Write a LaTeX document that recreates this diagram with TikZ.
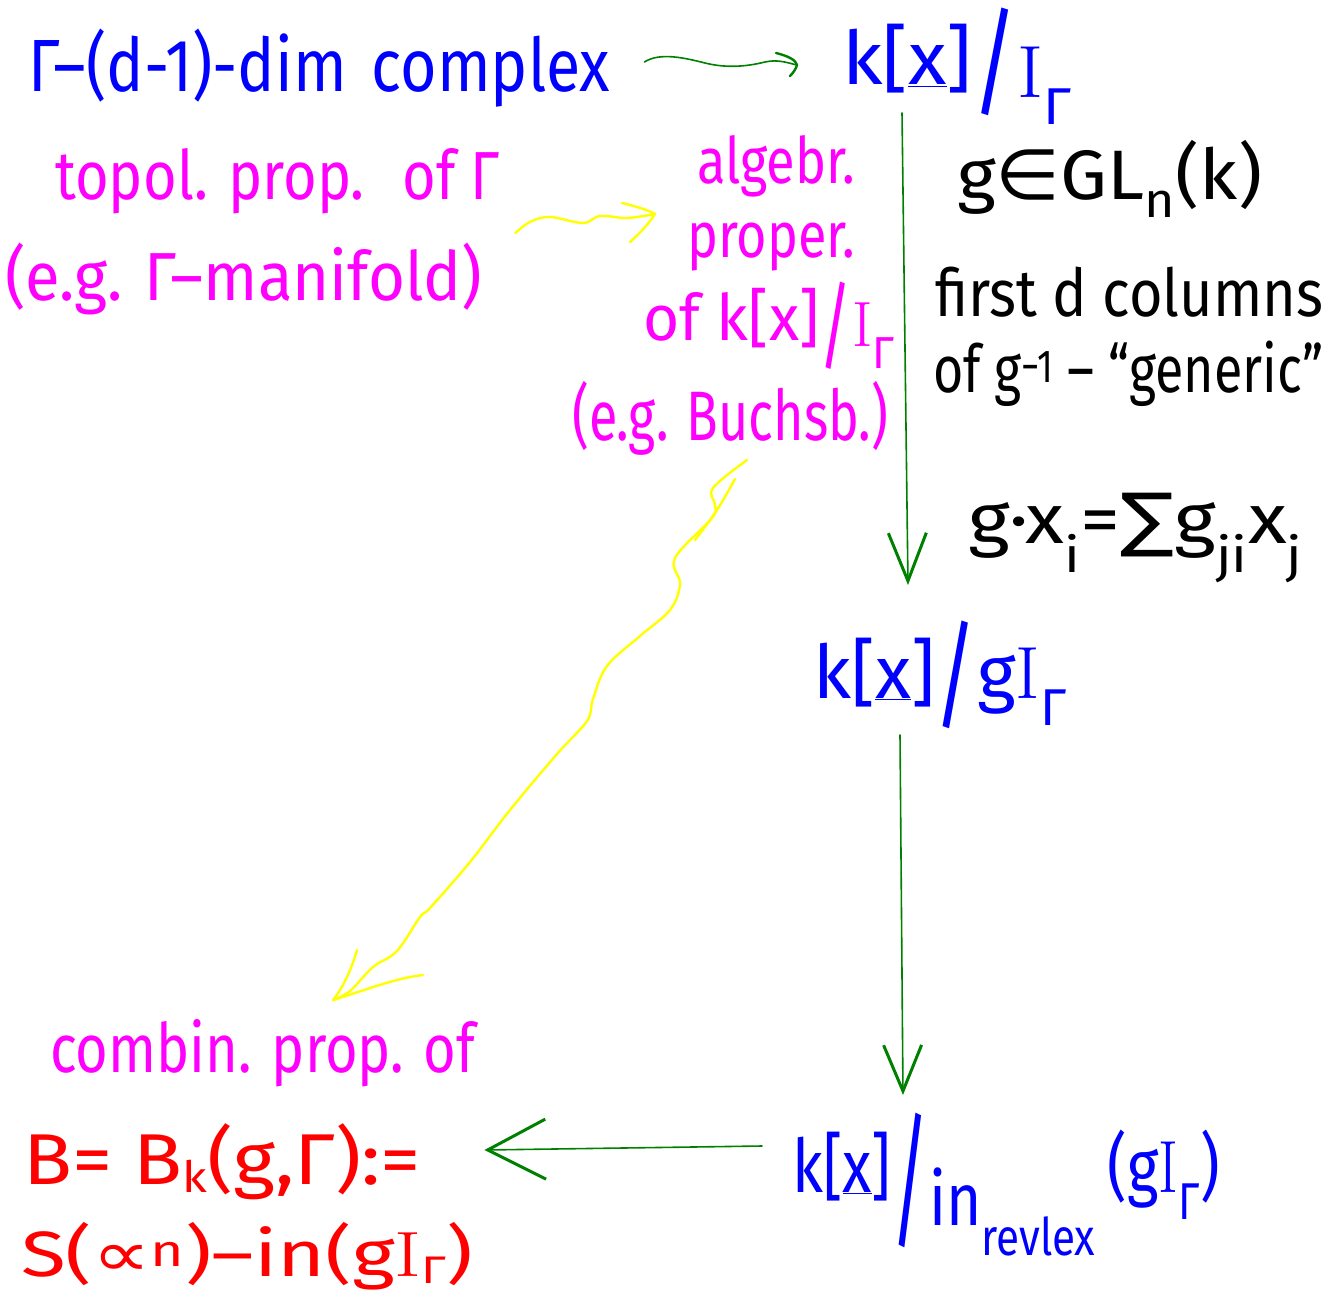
\documentclass[tikz,border=0pt]{standalone}
\usepackage{fontspec}
\setsansfont{Fira Sans}
\newfontfamily\symf{DejaVu Sans}
\usepackage{graphicx}
\usetikzlibrary{arrows.meta}
\definecolor{hblue}{RGB}{0,0,255}
\definecolor{hmag}{RGB}{255,0,255}
\definecolor{hred}{RGB}{255,0,0}
\definecolor{hgreen}{RGB}{0,128,0}
\definecolor{hyel}{RGB}{255,255,0}
\newcommand{\hw}[3]{\resizebox{#1}{\height}{\fontsize{#2}{#2}\selectfont\sffamily #3}}
\newcommand{\slsh}[3]{\raisebox{#1}{\scalebox{#2}[#3]{/}}}
\newcommand{\rI}{{\rmfamily I}}
\newcommand{\lsub}[1]{\raisebox{-0.12em}{\fontsize{0.6em}{0.6em}\selectfont #1}}
\tikzset{
  lbl/.style={inner sep=0pt, anchor=base west},
  cblue/.style={lbl, text=hblue},
  cmag/.style={lbl, text=hmag},
  cred/.style={lbl, text=hred},
  cblk/.style={lbl, text=black},
  gpen/.style={draw=hgreen, line width=1.6pt, line cap=round, line join=round},
  ypen/.style={draw=hyel, line width=2.4pt, line cap=round, line join=round},
}
\begin{document}
\begin{tikzpicture}[x=1pt,y=-1pt]
\useasboundingbox (0,0) rectangle (1327,1300);
% labels
\node[cblue] (gam) at (28,92) {\hw{582pt}{74}{Γ–(d-1)-dim\hspace{0.4em}complex}};
\node[cblue] (kx1) at (842,85) {\hw{230pt}{74}{k[\underline{x}]\slsh{-0.25em}{1.1}{1.6}\raisebox{-0.17em}{\rI\textsubscript{Γ}}}};
\node[cmag] (top1) at (55,200) {\hw{445pt}{68}{topol. prop.\hspace{0.3em} of Γ}};
\node[cmag] (top2) at (5,300) {\hw{477pt}{68}{(e.g. Γ–manifold)}};
\node[cmag] (alg1) at (697,183) {\hw{158pt}{64}{algebr.}};
\node[cmag] (alg2) at (687,257) {\hw{168pt}{64}{proper.}};
\node[cmag] (alg3) at (643,340) {\hw{252pt}{64}{of k[x]\slsh{-0.3em}{1.0}{1.5}\raisebox{-0.1em}{\rI\textsubscript{Γ}}}};
\node[cmag] (alg4) at (572,440) {\hw{316pt}{70}{(e.g. Buchsb.)}};
\node[cblk] (bl1) at (957,200) {\hw{305pt}{70}{g{\symf ∈}GL\textsubscript{n}(k)}};
\node[cblk] (bl2) at (935,316) {\hw{388pt}{66}{first d columns}};
\node[cblk] (bl3) at (933,392) {\hw{390pt}{66}{of g\textsuperscript{−1} – “generic”}};
\node[cblk] (bl4) at (968,543) {\hw{335pt}{70}{g·x\textsubscript{i}={\symf ∑}g\textsubscript{ji}x\textsubscript{j}}};
\node[cblue] (kx2) at (813,698) {\hw{254pt}{74}{k[\underline{x}]\slsh{-0.25em}{1.1}{1.6}g\rI\textsubscript{Γ}}};
\node[cblue] (kx3) at (792,1192) {\hw{428pt}{74}{k[\underline{x}]\slsh{-0.55em}{1.2}{2.0}\raisebox{-0.45em}{in\textsubscript{\raisebox{-0.4em}{revlex}}}\hspace{0.2em}(g\rI\textsubscript{Γ})}};
\node[cmag] (comb) at (50,1072) {\hw{425pt}{68}{combin. prop. of}};
\node[cred] (Bl) at (23,1184) {\hw{398pt}{72}{B= B\lsub{k}(g,Γ):=}};
\node[cred] (Sl) at (21,1276) {\hw{452pt}{64}{S({\symf ∝}\textsuperscript{n})–in(g\rI\lsub{Γ})}};
% connector end points
\coordinate (a1s) at ([xshift=34pt,yshift=30pt]gam.base east);
\coordinate (a1e) at ([xshift=-45pt,yshift=20pt]kx1.base west);
\coordinate (a2s) at ([xshift=60pt,yshift=-28pt]kx1.base west);
\coordinate (a2e) at ([xshift=95pt,yshift=113pt]kx2.base west);
\coordinate (a3s) at ([xshift=87pt,yshift=-37pt]kx2.base west);
\coordinate (a3e) at ([xshift=111pt,yshift=97pt]kx3.base west);
\coordinate (a4s) at ([xshift=-30pt,yshift=46pt]kx3.base west);
\coordinate (a4e) at ([xshift=63pt,yshift=34pt]Bl.base east);
\coordinate (y1s) at ([xshift=15pt,yshift=-33pt]top1.base east);
\coordinate (y1e) at ([xshift=-32pt,yshift=43pt]alg2.base west);
\coordinate (y2s) at ([xshift=175pt,yshift=-20pt]alg4.base west);
\coordinate (y2e) at ([xshift=283pt,yshift=72pt]comb.base west);
% green arrows
\draw[gpen] (a1s) .. controls (660,52) and (685,58) .. (705,63) .. controls (725,68) and (745,67) .. (765,62) .. controls (778,59) and (788,63) .. (a1e);
\draw[gpen, line width=2.4pt] (776,53) .. controls (788,56) and (796,60) .. (a1e) .. controls (796,69) and (793,73) .. (790,76);
\draw[gpen, -{Straight Barb[length=48pt,width=38pt,line width=3pt]}] (a2s) -- (a2e);
\draw[gpen, -{Straight Barb[length=46pt,width=38pt,line width=3pt]}] (a3s) -- (a3e);
\draw[gpen, -{Straight Barb[length=58pt,width=60pt,line width=3pt]}] (a4s) -- (a4e);
% yellow arrows
\draw[ypen] plot[smooth, tension=0.6] coordinates {(y1s) (530,222) (550,217) (583,223) (600,216) (627,218) (y1e)};
\draw[ypen] (622,203) .. controls (635,206) and (648,210) .. (y1e) .. controls (648,225) and (638,235) .. (630,242);
\draw[ypen] plot[smooth, tension=0.6] coordinates {(y2s) (713,488) (715,505) (712,518) (675,558) (680,584) (670,610) (640,636) (607,666) (593,699) (587,721) (557,754) (510,810) (470,862) (430,908) (420,917) (397,951) (373,967) (350,991) (y2e)};
\draw[ypen] plot[smooth, tension=0.6] coordinates {(735,479) (717,510) (695,540)};
\draw[ypen] (357,950) .. controls (352,968) and (343,988) .. (y2e) .. controls (360,992) and (395,978) .. (423,975);
\end{tikzpicture}
\end{document}
